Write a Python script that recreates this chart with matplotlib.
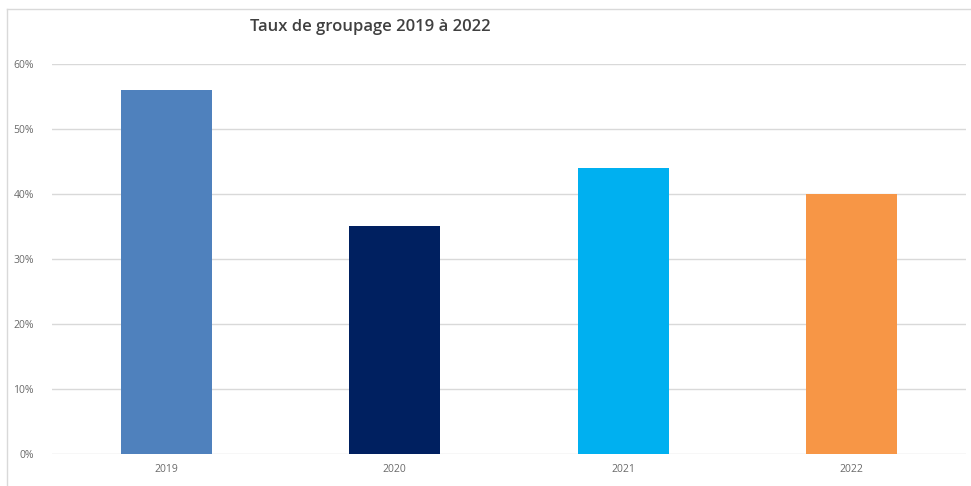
import matplotlib
matplotlib.use("Agg")
import matplotlib.pyplot as plt
from matplotlib.lines import Line2D
from matplotlib.ticker import FuncFormatter

categories = ["2019", "2020", "2021", "2022"]
values = [0.56, 0.35, 0.44, 0.40]
colors = ["#4F81BD", "#002060", "#00B0F0", "#F79646"]
yticks = [0, 0.1, 0.2, 0.3, 0.4, 0.5, 0.6]
title = "Taux de groupage 2019 à 2022"

W, H = 971, 486
fig = plt.figure(figsize=(W / 100, H / 100), dpi=100)
fig.patch.set_facecolor("white")

# chart border (only top and left edges visible)
top = 1 - 9 / H
left = 7 / W
fig.add_artist(Line2D([left, 1.0], [top, top], transform=fig.transFigure,
                      color="#D9D9D9", linewidth=1.0))
fig.add_artist(Line2D([left, left], [0.0, top], transform=fig.transFigure,
                      color="#D9D9D9", linewidth=1.0))

ax = fig.add_axes([52 / W, 32 / H, (966 - 52) / W, (454 - 64) / H])
x = range(len(categories))
ax.bar(x, values, width=0.4, color=colors, zorder=3)
ax.set_xlim(-0.5, len(categories) - 0.5)
ax.set_ylim(0, 0.6)
ax.set_yticks(yticks)
ax.yaxis.set_major_formatter(FuncFormatter(lambda v, p: f"{round(v * 100)}%"))
ax.set_xticks(list(x))
ax.set_xticklabels(categories)
ax.grid(axis="y", color="#D9D9D9", linewidth=1.0, zorder=0)
for s in ax.spines.values():
    s.set_visible(False)
ax.tick_params(axis="both", length=0, labelsize=7.5, labelcolor="#6A6A6A",
               labelfontfamily="Open Sans")
ax.tick_params(axis="y", pad=13)
ax.tick_params(axis="x", pad=7)

fig.text(370 / W, 1 - 27 / H, title, ha="center", va="center",
         fontsize=12, fontweight="semibold", color="#404040",
         family="Open Sans")

fig.savefig("out.png", dpi=100)
